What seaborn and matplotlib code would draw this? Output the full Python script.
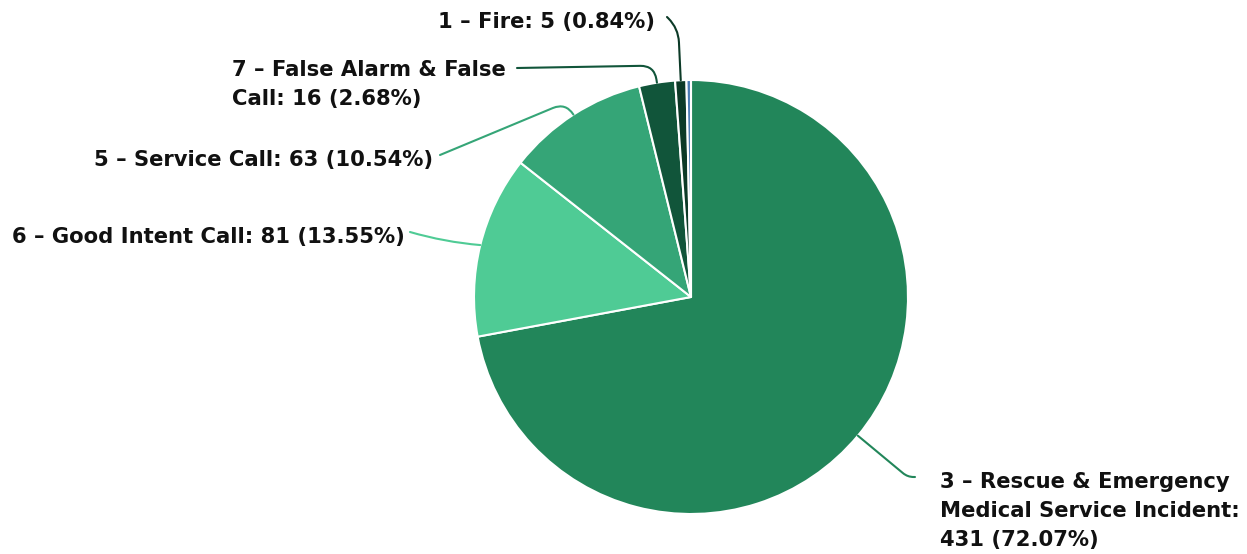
import numpy as np
import matplotlib.pyplot as plt
import seaborn as sns

categories = ['3 \u2013 Rescue & Emergency\nMedical Service Incident',
              '6 \u2013 Good Intent Call',
              '5 \u2013 Service Call',
              '7 \u2013 False Alarm & False\nCall',
              '1 \u2013 Fire',
              '']
counts = [431, 81, 63, 16, 5, 2]
colors = ['#22865a', '#4fcb95', '#35a577', '#11553a', '#0c3a27', '#4b7bb4']

# label layout in figure pixels (from top): text anchor, alignment, leader start, angle at leader start
label_layout = {
    0: dict(text=(940, 472), ha='left', va='top', start=(915, 477), angle=0, rad=6),
    1: dict(text=(405, 237), ha='right', va='center', start=(410, 232), angle=None, rad=0),
    2: dict(text=(433, 160), ha='right', va='center', start=(440, 155), angle=22.6, rad=14),
    3: dict(text=(232, 60), ha='left', va='top', start=(517, 68), angle=1, rad=14),
    4: dict(text=(655, 22), ha='right', va='center', start=(667, 17), angle=-45, rad=14),
}

sns.set_theme(style='white')
plt.rcParams['font.family'] = ['DejaVu Sans']

W, H = 1247, 554
fig = plt.figure(figsize=(W / 100, H / 100), dpi=100)
cx, cy, r = 691, 297, 217
ax = fig.add_axes([(cx - r) / W, (H - cy - r) / H, 2 * r / W, 2 * r / H])

ax.pie(counts, colors=colors, startangle=90, counterclock=False, radius=1,
       wedgeprops=dict(edgecolor='white', linewidth=1.5))
ax.set_xlim(-1, 1)
ax.set_ylim(-1, 1)
ax.set_aspect('equal')
ax.axis('off')

total = sum(counts)
cum = np.cumsum([0] + counts[:-1])
for i, lay in label_layout.items():
    mid = (cum[i] + counts[i] / 2) / total
    theta_deg = 90 - 360 * mid
    theta = np.deg2rad(theta_deg)
    edge = (np.cos(theta), np.sin(theta))
    pct = counts[i] / total * 100
    if i == 0:
        label = f'{categories[i]}:\n{counts[i]} ({pct:.2f}%)'
    else:
        label = f'{categories[i]}: {counts[i]} ({pct:.2f}%)'
    if lay['angle'] is None:
        conn = 'arc3,rad=0.05'
    else:
        conn = f"angle,angleA={lay['angle']},angleB={theta_deg:.1f},rad={lay['rad']}"
    sx, sy = lay['start']
    ax.annotate('', xy=edge, xycoords='data',
                xytext=(sx, H - sy), textcoords='figure pixels',
                arrowprops=dict(arrowstyle='-', color=colors[i], lw=1.5,
                                shrinkA=0, shrinkB=0, connectionstyle=conn))
    tx, ty = lay['text']
    fig.text(tx / W, 1 - ty / H, label, ha=lay['ha'], va=lay['va'],
             fontsize=15.2, fontweight='bold', color='#111111', linespacing=1.56)

fig.savefig('out.png', dpi=100)
